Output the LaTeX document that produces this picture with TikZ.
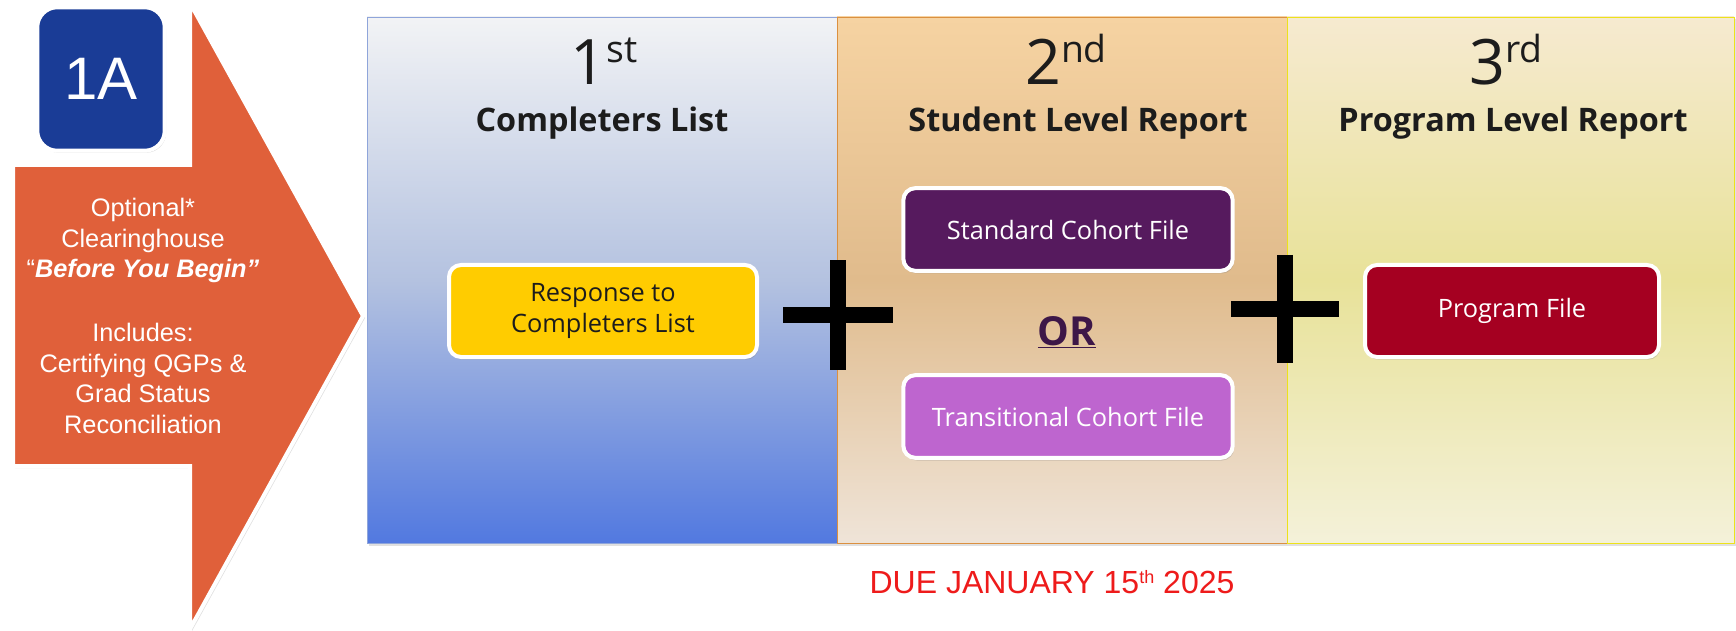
\documentclass[tikz,border=0pt]{standalone}
\usepackage{fontspec}
\setmainfont{Open Sans}
\newfontfamily\arialfont{Liberation Sans}
\usetikzlibrary{shadows}

\definecolor{stepblue}{HTML}{1A3C96}
\definecolor{arroworange}{HTML}{E0603A}
\definecolor{respyellow}{HTML}{FFCC00}
\definecolor{stdpurple}{HTML}{561A5E}
\definecolor{transpurple}{HTML}{BE65CF}
\definecolor{progred}{HTML}{A50021}
\definecolor{orpurple}{HTML}{3D1748}
\definecolor{duered}{HTML}{EE1B1B}
\definecolor{headtext}{HTML}{1C1C1C}

\newcommand\ranklabel[2]{#1{\fontsize{28}{28}\selectfont\raisebox{16.5pt}{#2}}}

\begin{document}
\begin{tikzpicture}[x=0.75pt,y=-0.75pt,
    filebox/.style={draw=white,line width=3pt,rounded corners=9pt,
      align=center,inner sep=0pt,text=white,
      font=\fontsize{19}{23}\selectfont,
      drop shadow={shadow xshift=1pt,shadow yshift=-2pt,opacity=0.3}},
    heading/.style={anchor=base,text=headtext,font=\fontsize{24.3}{28}\selectfont\bfseries},
    rank/.style={anchor=base,text=headtext,font=\fontsize{47}{47}\selectfont},
    plusbar/.style={line width=12pt,black}]
      \useasboundingbox (0,0) rectangle (1736,631);
      \fill[white] (0,0) rectangle (1736,631);
      % panels
      \fill[black!12] (369,19) rectangle (1736,546);
      \shade[top color={rgb,255:red,242;green,243;blue,245},bottom color={rgb,255:red,82;green,121;blue,224},
        middle color={rgb,255:red,180;green,194;blue,224},draw={rgb,255:red,143;green,165;blue,218}]
      (367,17) rectangle (837,543)
      ;
      \shade[top color={rgb,255:red,246;green,211;blue,162},bottom color={rgb,255:red,239;green,228;blue,216},
        middle color={rgb,255:red,224;green,187;blue,140},draw={rgb,255:red,219;green,144;blue,64}]
      (837,17) rectangle (1287,543)
      ;
      \shade[top color={rgb,255:red,246;green,234;blue,208},bottom color={rgb,255:red,244;green,241;blue,217},
        middle color={rgb,255:red,232;green,226;blue,153},draw={rgb,255:red,237;green,226;blue,26}]
      (1287,17) rectangle (1734,543)
      ;
      % arrow 1A
      \draw[white,line width=3pt,fill=arroworange,
        drop shadow={shadow xshift=1.5pt,shadow yshift=-1.5pt,opacity=0.25}]
      (13,165) -- (190,165) -- (190,3) -- (363,316) -- (190,629) -- (190,466) -- (13,466) -- cycle
      ;
      \node[draw=white,line width=3pt,fill=stepblue,rounded corners=15pt,
        minimum width=95.6pt,minimum height=107.6pt,text=white,
        font=\arialfont\fontsize{45}{45}\selectfont,
        drop shadow={shadow xshift=1pt,shadow yshift=-1.5pt,opacity=0.3}] (stepA) at (101,79) {1A};
      \node[align=center,text=white,inner sep=0pt,font=\arialfont\fontsize{19}{22.9}\selectfont] (note) at (143,316)
      {Optional*\\Clearinghouse\\“\textbf{\textit{Before You Begin”}}\\[25pt]Includes:\\Certifying QGPs \&\\Grad Status\\Reconciliation};
      % headings
      \node[rank] (rankA) at (604,85) {\ranklabel{1}{st}};
      \node[heading] (headA) at (602,132) {Completers List};
      \node[rank] (rankB) at (1066,85) {\ranklabel{2}{nd}};
      \node[heading] (headB) at (1078,132) {Student Level Report};
      \node[rank] (rankC) at (1506,85) {\ranklabel{3}{rd}};
      \node[heading] (headC) at (1513,132) {Program Level Report};
      % plus signs
      \coordinate (plusA) at (838,315);
      \coordinate (plusB) at (1285,309);
      \draw[plusbar] (plusA) +(-55,0) -- +(55,0) +(0,-54.5) -- +(0,54.5);
      \draw[plusbar] (plusB) +(-54,0) -- +(54,0) +(0,-54) -- +(0,54);
      % files
      \node[filebox,fill=respyellow,text=headtext,minimum width=231pt,minimum height=69pt] (resp) at (603,311)
      {Response to\\Completers List};
      \node[filebox,fill=stdpurple,minimum width=247pt,minimum height=62pt] (std) at (1068,229.5) {Standard Cohort File};
      \node[anchor=base,text=orpurple,font=\fontsize{30}{30}\selectfont\bfseries] (or) at (1067,345) {\underline{OR}};
      \node[filebox,fill=transpurple,minimum width=247pt,minimum height=62pt] (trans) at (1068,416.5) {Transitional Cohort File};
      \node[filebox,fill=progred,minimum width=220.5pt,minimum height=69pt] (prog) at (1512,311) {Program File};
      % due date
      \node[anchor=base,text=duered,font=\arialfont\fontsize{24}{24}\selectfont] (due) at (1052,593)
      {DUE JANUARY 15{\fontsize{13.5}{13.5}\selectfont\raisebox{7.5pt}{th}} 2025};
    \end{tikzpicture}
\end{document}
